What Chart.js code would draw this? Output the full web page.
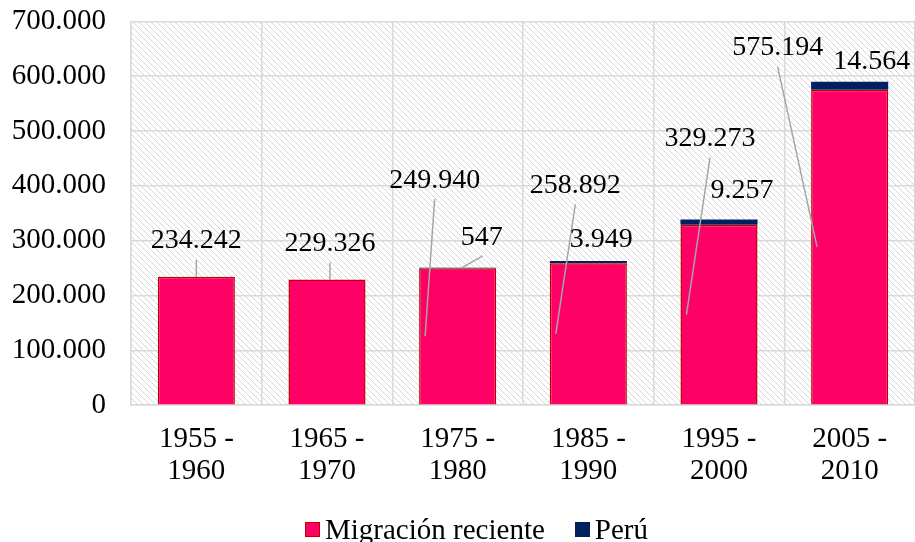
<!DOCTYPE html>
<html>
<head>
<meta charset="utf-8">
<script src="https://cdn.jsdelivr.net/npm/chart.js@4.4.1/dist/chart.umd.min.js"></script>
<style>
  body { margin: 0; background: #fff; }
  #wrap { position: relative; width: 915px; height: 542px; overflow: hidden; }
  #chart { position: absolute; left: 0; top: -21px; }
  #legend { position: absolute; left: 305px; top: 513px; display: flex; align-items: center;
            font-family: "Liberation Serif", "Times New Roman", serif; font-size: 29px; line-height: 32px; color: #000; }
  #legend span.box { display: inline-block; width: 13px; height: 13px; margin-right: 5px; }
  #legend span.item { display: flex; align-items: center; margin-right: 30px; }
</style>
</head>
<body>
<div id="wrap">
  <canvas id="chart" width="915" height="563"></canvas>
  <div id="legend"></div>
</div>
<script>
// datos
var periodos = [['1955 -', '1960'], ['1965 -', '1970'], ['1975 -', '1980'], ['1985 -', '1990'], ['1995 -', '2000'], ['2005 -', '2010']];
var migracionReciente = [234242, 229326, 249940, 258892, 329273, 575194];
var peru = [null, null, 547, 3949, 9257, 14564];
var yTicks = [0, 100000, 200000, 300000, 400000, 500000, 600000, 700000];

// posicion de las etiquetas (desplazamiento desde el tope del segmento)
var migLabelOffsets = [[0, -36], [3, -36], [-23, -88], [-13, -78], [-9, -86], [-72, -42]];
var peruLabelOffsets = [null, null, [24, -30], [13, -21], [23, -29], [22, -20]];
var peruLeader = [false, false, true, false, false, false];

var FONT = '"Liberation Serif", "Times New Roman", serif';
var PINK = '#FF0066', PINK_BORDER = '#C00000', NAVY = '#002060';

function formatNum(v) {
    return String(v).replace(/\B(?=(\d{3})+(?!\d))/g, '.');
}

// fondo rayado del area de trazado
var hatchPlugin = {
    id: 'hatch',
    beforeDraw: function(chart) {
        var c = document.createElement('canvas');
        c.width = 6; c.height = 6;
        var p = c.getContext('2d');
        p.fillStyle = '#D6D6D6';
        for (var k = 0; k < 6; k++) p.fillRect(k, k, 1, 1);
        var ctx = chart.ctx, a = chart.chartArea;
        ctx.save();
        ctx.fillStyle = ctx.createPattern(c, 'repeat');
        ctx.fillRect(a.left, a.top, a.right - a.left, a.bottom - a.top);
        ctx.restore();
    }
};

// etiquetas de datos con lineas guia
var labelPlugin = {
    id: 'dataLabels',
    afterDatasetsDraw: function(chart) {
        var ctx = chart.ctx;
        var migBars = chart.getDatasetMeta(0).data;
        var peruBars = chart.getDatasetMeta(1).data;
        ctx.save();
        ctx.font = '28px ' + FONT;
        ctx.textAlign = 'center';
        ctx.textBaseline = 'middle';
        ctx.strokeStyle = '#A6A6A6';
        ctx.lineWidth = 1.5;

        migBars.forEach(function(bar, i) {
            var off = migLabelOffsets[i];
            var tx = bar.x + off[0], ty = bar.y + off[1];
            var ax, ay;
            if (Math.abs(off[0]) < 5) {
                ax = tx; ay = bar.y;
            } else {
                ax = bar.x - bar.width / 2 + 6;
                ay = (bar.y + bar.base) / 2;
            }
            ctx.beginPath();
            ctx.moveTo(tx, ty + 19);
            ctx.lineTo(ax, ay);
            ctx.stroke();
            ctx.fillStyle = '#000';
            ctx.fillText(formatNum(migracionReciente[i]), tx, ty);
        });

        peruBars.forEach(function(bar, i) {
            if (peru[i] == null) return;
            var off = peruLabelOffsets[i];
            var tx = bar.x + off[0], ty = bar.y + off[1];
            if (peruLeader[i]) {
                ctx.beginPath();
                ctx.moveTo(tx + 1, ty + 18);
                ctx.lineTo(bar.x + 4, bar.y);
                ctx.stroke();
            }
            ctx.fillStyle = '#000';
            ctx.fillText(formatNum(peru[i]), tx, ty);
        });
        ctx.restore();
    }
};

var chart = new Chart(document.getElementById('chart'), {
    type: 'bar',
    data: {
        labels: periodos,
        datasets: [{
            label: 'Migración reciente',
            data: migracionReciente,
            backgroundColor: PINK,
            borderColor: PINK_BORDER,
            borderWidth: 1.5,
            barPercentage: 0.59,
            categoryPercentage: 1
        }, {
            label: 'Perú',
            data: peru,
            backgroundColor: NAVY,
            borderWidth: 0,
            barPercentage: 0.59,
            categoryPercentage: 1
        }]
    },
    options: {
        responsive: false,
        animation: false,
        layout: { padding: { top: 0, right: 0, bottom: 37, left: 4 } },
        plugins: {
            legend: { display: false },
            tooltip: { enabled: false }
        },
        scales: {
            x: {
                stacked: true,
                grid: { color: '#D9D9D9', lineWidth: 1.5, drawTicks: false },
                border: { color: '#D9D9D9', width: 1.5 },
                ticks: { color: '#000', font: { family: FONT, size: 29, lineHeight: 1.1 }, padding: 18, maxRotation: 0 }
            },
            y: {
                stacked: true,
                min: 0,
                max: 700000,
                afterBuildTicks: function(scale) {
                    scale.ticks = yTicks.map(function(v) { return { value: v }; });
                },
                afterFit: function(scale) { scale.width = 127; },
                grid: { color: '#D9D9D9', lineWidth: 1.5, drawTicks: false },
                border: { color: '#D9D9D9', width: 1.5 },
                ticks: {
                    color: '#000',
                    font: { family: FONT, size: 29 },
                    padding: 25,
                    callback: function(v) { return formatNum(v); }
                }
            }
        }
    },
    plugins: [hatchPlugin, labelPlugin]
});

// leyenda
var legend = document.getElementById('legend');
chart.data.datasets.forEach(function(ds) {
    var item = document.createElement('span');
    item.className = 'item';
    var box = document.createElement('span');
    box.className = 'box';
    box.style.background = ds.backgroundColor;
    box.style.border = '1px solid ' + (ds.borderColor || ds.backgroundColor);
    item.appendChild(box);
    item.appendChild(document.createTextNode(ds.label));
    legend.appendChild(item);
});
</script>
</body>
</html>
